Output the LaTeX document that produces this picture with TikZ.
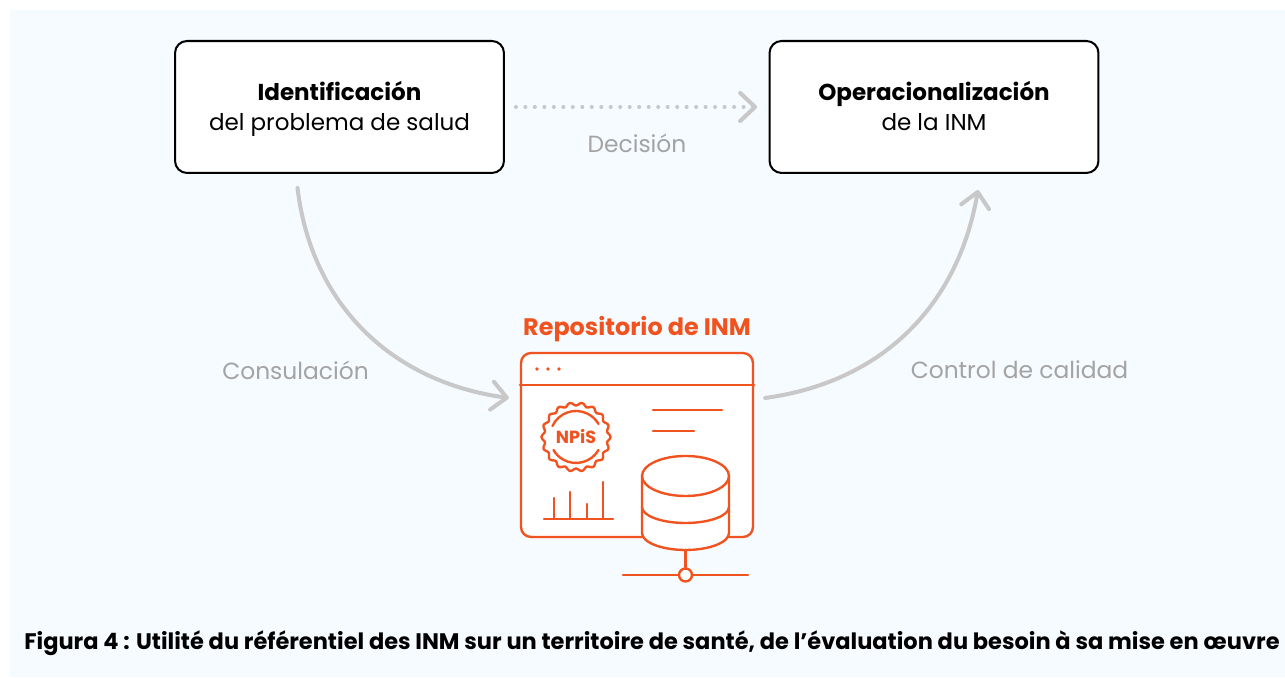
\documentclass[tikz,border=0pt]{standalone}
\usepackage{fontspec}
\setmainfont{Poppins}
\usetikzlibrary{arrows.meta}
\usetikzlibrary{calc}

\definecolor{paleblue}{HTML}{F6FBFF}
\definecolor{flowgray}{HTML}{C8C8C8}
\definecolor{labelgray}{HTML}{A3A3A3}
\definecolor{repoorange}{HTML}{F0531F}

\newcommand{\boxtop}{\rule{0pt}{13pt}}

\tikzset{
    stagebox/.style={draw=black, fill=white, line width=1.15pt, rounded corners=0.24cm,
        minimum width=6.58cm, minimum height=2.64cm, align=center, font=\fontsize{13.1}{17}\selectfont},
    flowline/.style={draw=flowgray, line width=2.3pt, line cap=round,
        -{Straight Barb[round, length=8.5pt, width=16pt, line width=2.3pt]}},
    flowlabel/.style={text=labelgray, font=\fontsize{13.3}{16}\selectfont},
    repoline/.style={draw=repoorange, line width=1.35pt, line cap=round},
}

\begin{document}
\begin{tikzpicture}[x=0.02cm, y=0.02cm]

\useasboundingbox (0,0) rectangle (1285,678);
\fill[paleblue] (10,1) rectangle (1285,668);

% Boxes
\node[stagebox] (idbox) at (339.5,571) {\boxtop\textbf{Identificación}\\del problema de salud};
\node[stagebox] (opbox) at (934,571) {\boxtop\textbf{Operacionalización}\\de la INM\vphantom{p}};

% Window of the repository
\node[repoline, fill=white, rounded corners=0.2cm, minimum width=4.64cm, minimum height=3.68cm,
    inner sep=0pt] (repo) at (637,233) {};
\node[text=repoorange, font=\bfseries\fontsize{13.6}{16}\selectfont] (repotitle) at (637,349) {Repositorio de INM};
\coordinate (headerL) at (repo.west |- 0,293);
\coordinate (headerR) at (repo.east |- 0,293);
\draw[repoline] (headerL) -- (headerR);
\foreach \x in {537,548,559} {
    \fill[repoorange] (\x,309) circle (1.8);
}

% Text lines
\draw[repoline] (653,268) -- (722,268);
\draw[repoline] (653,247) -- (694,247);

% Seal
\draw[repoline, smooth, samples=181, domain=0:360, variable=\t]
    plot ({576+(33+1.5*cos(18*\t))*cos(\t)}, {241+(33+1.5*cos(18*\t))*sin(\t)}) -- cycle;
\draw[repoline] (576,241) ++(155:26) arc (155:30:26);
\draw[repoline] (576,241) ++(-30:26) arc (-30:-150:26);
\node[text=repoorange, font=\bfseries\fontsize{10}{12}\selectfont, inner sep=0pt] (seallabel) at (576,241) {NPiS};

% Bars
\draw[repoline] (544,159) -- (613,159);
\draw[repoline] (554,159) -- (554,180);
\draw[repoline] (570,159) -- (570,186);
\draw[repoline] (587,159) -- (587,174);
\draw[repoline] (603,159) -- (603,196);

% Database
\draw[repoline, fill=white] (642,202) -- (642,145) arc (180:360:43.5 and 17) -- (729,202)
    arc (0:180:43.5 and 20) -- cycle;
\draw[repoline] (642,202) arc (180:360:43.5 and 20);
\draw[repoline] (642,171) arc (180:360:43.5 and 16);
\coordinate (dbfoot) at (685.5,128);
\node[repoline, circle, fill=white, minimum size=0.26cm, inner sep=0pt] (hub) at (685.5,103) {};
\coordinate (netL) at (623,103);
\coordinate (netR) at (748,103);
\draw[repoline] (dbfoot) -- (hub);
\draw[repoline] (netL) -- (hub) -- (netR);

% Coordinates
\coordinate (consulStart) at ($(idbox.south)+(-42,-14)$);
\coordinate (consulStop) at ($(repo.west)+(-11,47)$);
\coordinate (controlStart) at ($(repo.east)+(11,47)$);
\coordinate (controlStop) at ($(opbox.south)+(44,-16)$);

% Draws arrows
\draw[flowline, dash pattern=on 0pt off 5.4pt, shorten <=6.2pt, shorten >=6.5pt] (idbox) -- (opbox);
\path[flowline] (consulStart) .. controls +(14,-117) and +(-117,16) .. (consulStop);
\path[flowline] (controlStart) .. controls +(117,16) and +(-20,-116) .. (controlStop);

% Labels
\node[flowlabel] (decision) at (637,535) {Decisión};
\node[flowlabel] (consul) at (295.5,308) {Consulación};
\node[flowlabel] (control) at (1019.5,308) {Control de calidad};

% Caption
\node[font=\bfseries\fontsize{12.8}{14}\selectfont] (caption) at (652,35) {Figura 4 : Utilité du référentiel des INM sur un territoire de santé, de l’évaluation du besoin à sa mise en œuvre};

\end{tikzpicture}
\end{document}
